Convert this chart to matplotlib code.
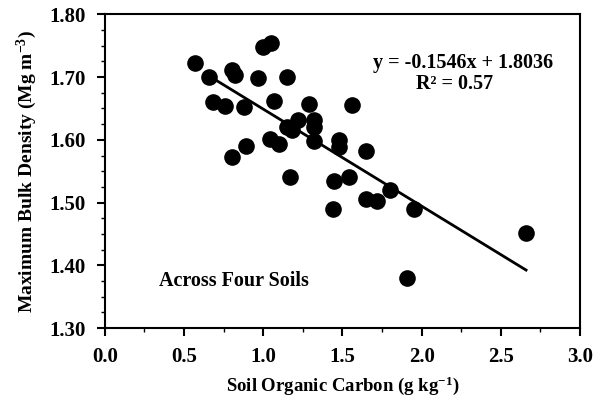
import numpy as np
import matplotlib
matplotlib.use('Agg')
import matplotlib.pyplot as plt
from matplotlib.ticker import MultipleLocator, FormatStrFormatter

plt.rcParams['font.family'] = 'Liberation Serif'
plt.rcParams['font.weight'] = 'bold'
plt.rcParams['mathtext.fontset'] = 'custom'
plt.rcParams['mathtext.rm'] = 'Liberation Serif:bold'
plt.rcParams['mathtext.it'] = 'Liberation Serif:bold'
plt.rcParams['mathtext.bf'] = 'Liberation Serif:bold'

# soil organic carbon (g/kg) vs max bulk density (Mg/m3)
soc = [0.57, 0.66, 0.80, 0.82, 0.97, 1.15, 1.00, 1.05, 0.68, 0.76, 0.88,
       1.07, 1.15, 1.18, 1.22, 1.32, 1.32, 1.04, 1.10, 0.89, 0.80, 1.29,
       1.56, 1.32, 1.48, 1.48, 1.65, 1.17, 1.45, 1.54, 1.80, 1.44, 1.65,
       1.72, 1.95, 2.66, 1.91]
mbd = [1.722, 1.700, 1.711, 1.703, 1.698, 1.700, 1.748, 1.755, 1.660, 1.654,
       1.652, 1.662, 1.620, 1.615, 1.631, 1.631, 1.620, 1.602, 1.594, 1.590,
       1.572, 1.657, 1.655, 1.598, 1.600, 1.588, 1.583, 1.540, 1.535, 1.541,
       1.520, 1.490, 1.505, 1.502, 1.490, 1.451, 1.380]

slope = -0.1546
intercept = 1.8036
fit_x = np.array([0.66, 2.66])

fig = plt.figure(figsize=(5.96, 4.0), dpi=100)
ax = fig.add_axes([0.176, 0.18, 0.797, 0.784])

ax.scatter(soc, mbd, s=120, color='black', zorder=3)
ax.plot(fit_x, slope * fit_x + intercept, color='black', lw=2, zorder=2)

ax.set_xlim(0, 3)
ax.set_ylim(1.30, 1.80)
ax.xaxis.set_major_locator(MultipleLocator(0.5))
ax.xaxis.set_minor_locator(MultipleLocator(0.25))
ax.yaxis.set_major_locator(MultipleLocator(0.1))
ax.yaxis.set_minor_locator(MultipleLocator(0.025))
ax.xaxis.set_major_formatter(FormatStrFormatter('%.1f'))
ax.yaxis.set_major_formatter(FormatStrFormatter('%.2f'))
ax.tick_params(which='major', direction='out', length=6, width=1.5, labelsize=15, pad=8)
ax.tick_params(which='minor', direction='out', length=3, width=1)
for sp in ax.spines.values():
    sp.set_linewidth(1.5)

ax.set_xlabel(r'Soil Organic Carbon (g kg$^{-1}$)', fontsize=13.5, fontweight='bold', labelpad=5)
ax.set_ylabel(r'Maximum Bulk Density (Mg m$^{-3}$)', fontsize=14, fontweight='bold', labelpad=7)

ax.text(0.754, 0.845, 'y = -0.1546x + 1.8036', transform=ax.transAxes,
        ha='center', va='center', fontsize=14.5, fontweight='bold')
ax.text(0.737, 0.778, 'R\u00b2 = 0.57', transform=ax.transAxes,
        ha='center', va='center', fontsize=14.5, fontweight='bold')
ax.text(0.272, 0.15, 'Across Four Soils', transform=ax.transAxes,
        ha='center', va='center', fontsize=14.5, fontweight='bold')

fig.savefig('out.png', dpi=100)
